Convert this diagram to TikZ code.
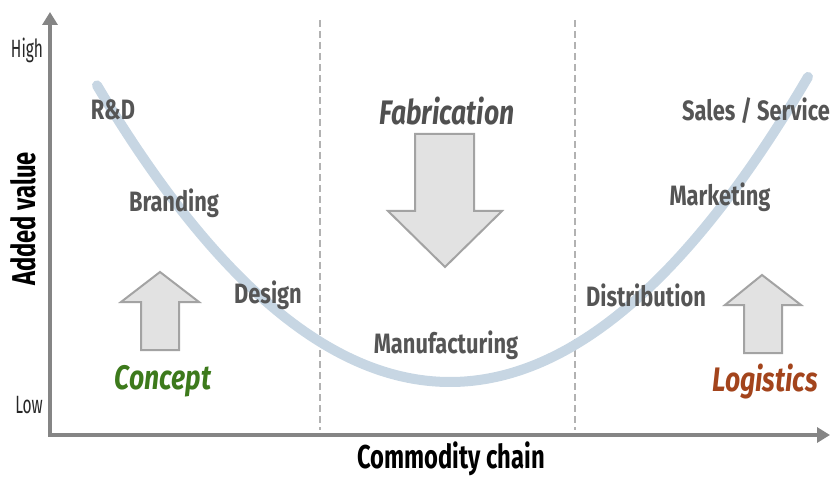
\documentclass[tikz,border=0pt]{standalone}
\usepackage{fontspec}
\setmainfont{Fira Sans}
\newfontfamily\lblfont[FakeStretch=0.78]{Fira Sans}
\newfontfamily\axfont[FakeStretch=0.62]{Fira Sans}
\newfontfamily\hdfont[FakeStretch=0.72]{Fira Sans}
\usetikzlibrary{arrows.meta}
\definecolor{axisgray}{HTML}{858585}
\definecolor{txtgray}{HTML}{555555}
\definecolor{curveblue}{HTML}{C7D6E3}
\definecolor{arrfill}{HTML}{E2E2E2}
\definecolor{arrdraw}{HTML}{A3A3A3}
\definecolor{fabgray}{HTML}{505050}
\definecolor{conceptgreen}{HTML}{3D7A1C}
\definecolor{logisticsred}{HTML}{A3441C}
\tikzset{
  axis/.style={draw=axisgray, line width=4pt, -{Triangle[width=15pt,length=13pt]}},
  divider/.style={draw=black!30, line width=1.6pt, dash pattern=on 7pt off 4pt},
  valuecurve/.style={draw=curveblue, line width=10pt, line cap=round},
  blockarrow/.style={fill=arrfill, draw=arrdraw, line width=2pt, line join=miter},
  stage/.style={font=\lblfont\bfseries\fontsize{28}{30}\selectfont, text=txtgray, inner sep=0pt},
  level/.style={font=\axfont\fontsize{25}{27}\selectfont, text=black!85, inner sep=0pt},
  heading/.style={font=\hdfont\bfseries\fontsize{33}{35}\selectfont, text=black, inner sep=0pt},
  phase/.style={font=\lblfont\bfseries\itshape\fontsize{34}{36}\selectfont, inner sep=0pt},
}
\begin{document}
\begin{tikzpicture}[x=1pt, y=-1pt]
\useasboundingbox (0,0) rectangle (835,478);
% dividers
\coordinate (d1t) at (320,20); \coordinate (d1b) at (320,430);
\coordinate (d2t) at (575,20); \coordinate (d2b) at (575,430);
\draw[divider] (d1t) -- (d1b);
\draw[divider] (d2t) -- (d2b);
% curve
\draw[valuecurve] plot[domain=97:808, samples=90, smooth] (\x, {382 - 300*((\x-450)/355)^2});
% axes
\coordinate (origin) at (50,435);
\coordinate (ytop) at (50,12);
\coordinate (xend) at (830,435);
\draw[axis] ([yshift=2pt]origin) -- (ytop);
\draw[axis] ([xshift=-2pt]origin) -- (xend);
% axis labels
\node[level] (high) at (27,50) {High};
\node[level] (low) at (29,405) {Low};
\node[heading, rotate=90] (yl) at (23,219) {Added value};
\node[heading, anchor=base] (xl) at (451,468) {Commodity chain};
% stage labels
\node[stage] (rd) at (113,110) {R\&D};
\node[stage] (brand) at (174,203) {Branding};
\node[stage] (design) at (268,295) {Design};
\node[stage] (manu) at (446,345) {Manufacturing};
\node[stage] (distr) at (646,295) {Distribution};
\node[stage] (mkt) at (720,197) {Marketing};
\node[stage] (sales) at (756,111) {Sales / Service};
% phase labels
\node[phase, text=fabgray] (fab) at (447,111) {Fabrication};
\node[phase, text=conceptgreen] (concept) at (163,381) {Concept};
\node[phase, text=logisticsred] (logi) at (765,382) {Logistics};
% block arrows
\draw[blockarrow] (141,350) -- (141,302) -- (121,302) -- (160,272) -- (199,302) -- (179,302) -- (179,350) -- cycle;
\draw[blockarrow] (415,134) -- (474,134) -- (474,211) -- (502,211) -- (445,267) -- (388,211) -- (415,211) -- cycle;
\draw[blockarrow] (744,353) -- (744,305) -- (725,305) -- (762,275) -- (801,305) -- (782,305) -- (782,353) -- cycle;
\end{tikzpicture}
\end{document}
